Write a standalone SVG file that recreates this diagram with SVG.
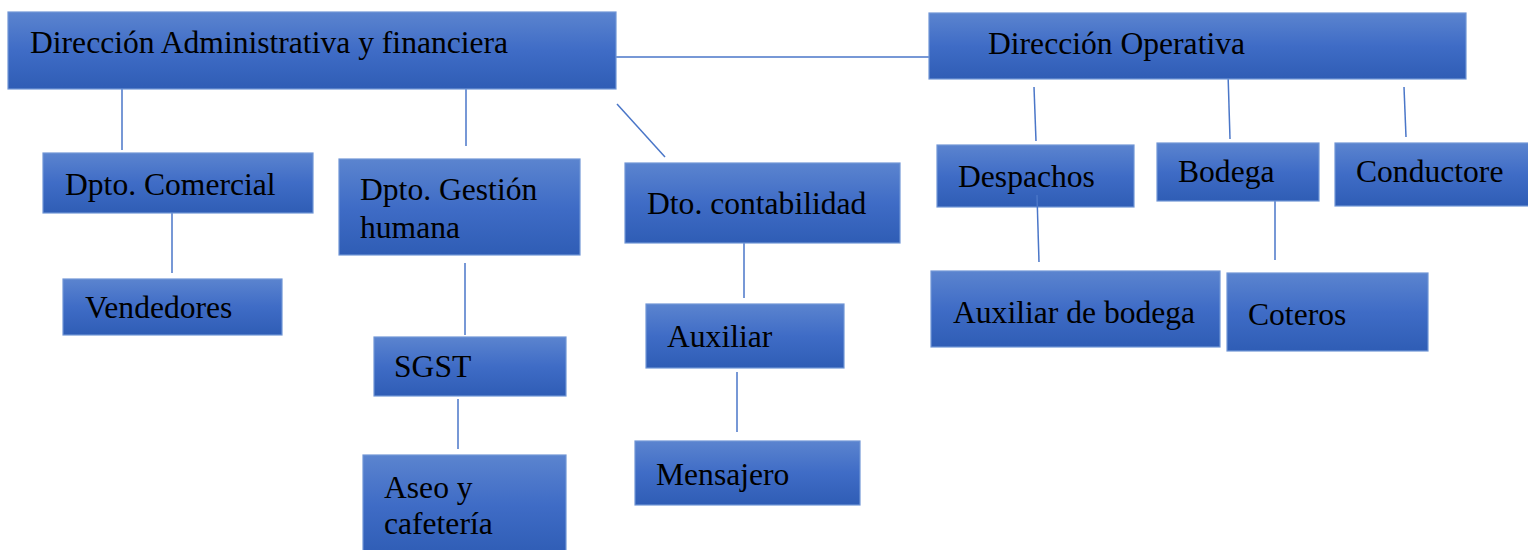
<svg xmlns="http://www.w3.org/2000/svg" width="1528" height="550" viewBox="0 0 1528 550">
<defs>
<linearGradient id="g" x1="0" y1="0" x2="0" y2="1">
<stop offset="0" stop-color="#5b84cf"/>
<stop offset="0.5" stop-color="#3f6cc6"/>
<stop offset="1" stop-color="#2f5db5"/>
</linearGradient>
<style>
.b{fill:url(#g);stroke:#7196d6;stroke-width:1.2}
.t{font-family:"Liberation Serif",serif;font-size:31.6px;fill:#000}
.c line{stroke:#4a76c8;stroke-width:1.5}
</style>
</defs>
<rect width="1528" height="550" fill="#fff"/>
<g class="c">
<line x1="616" y1="57" x2="929" y2="57"/>
<line x1="122" y1="89" x2="122" y2="150"/>
<line x1="466" y1="89" x2="466" y2="146"/>
<line x1="617" y1="104" x2="665" y2="157"/>
<line x1="172" y1="210" x2="172" y2="273"/>
<line x1="465" y1="263" x2="465" y2="335"/>
<line x1="458" y1="399" x2="458" y2="449"/>
<line x1="744" y1="243" x2="744" y2="298"/>
<line x1="737" y1="372" x2="737" y2="432"/>
<line x1="1034" y1="87" x2="1036" y2="141"/>
<line x1="1228" y1="73" x2="1230" y2="139"/>
<line x1="1404" y1="87" x2="1406" y2="137"/>
<line x1="1275" y1="201" x2="1275" y2="260"/>
</g>
<g id="dir-adm"><rect class="b" x="8" y="12" width="608" height="77"/><text class="t" x="30" y="53">Dirección Administrativa y financiera</text></g>
<g id="dir-op"><rect class="b" x="929" y="13" width="537" height="66"/><text class="t" x="988" y="54">Dirección Operativa</text></g>
<g id="comercial"><rect class="b" x="43" y="153" width="270" height="60"/><text class="t" x="65" y="195">Dpto. Comercial</text></g>
<g id="vendedores"><rect class="b" x="63" y="279" width="219" height="56"/><text class="t" x="85" y="318">Vendedores</text></g>
<g id="gestion"><rect class="b" x="339" y="159" width="241" height="96"/><text class="t" x="360" y="200">Dpto. Gestión</text><text class="t" x="360" y="238">humana</text></g>
<g id="sgst"><rect class="b" x="374" y="337" width="192" height="59"/><text class="t" x="394" y="377">SGST</text></g>
<g id="aseo"><rect class="b" x="363" y="455" width="203" height="100"/><text class="t" x="384" y="498">Aseo y</text><text class="t" x="384" y="534">cafetería</text></g>
<g id="contabilidad"><rect class="b" x="625" y="163" width="275" height="80"/><text class="t" x="647" y="214">Dto. contabilidad</text></g>
<g id="auxiliar"><rect class="b" x="646" y="304" width="198" height="64"/><text class="t" x="667" y="347">Auxiliar</text></g>
<g id="mensajero"><rect class="b" x="635" y="441" width="225" height="64"/><text class="t" x="656" y="485">Mensajero</text></g>
<g id="despachos"><rect class="b" x="937" y="145" width="197" height="62"/><text class="t" x="958" y="187">Despachos</text></g>
<g id="bodega"><rect class="b" x="1157" y="143" width="162" height="58"/><text class="t" x="1178" y="182">Bodega</text></g>
<g id="conductore"><rect class="b" x="1335" y="143" width="200" height="63"/><text class="t" x="1356" y="182">Conductore</text></g>
<g id="aux-bodega"><rect class="b" x="931" y="271" width="289" height="76"/><text class="t" x="953" y="323">Auxiliar de bodega</text></g>
<g id="coteros"><rect class="b" x="1227" y="273" width="201" height="78"/><text class="t" x="1248" y="325">Coteros</text></g>
<g class="c"><line x1="1037" y1="195" x2="1039" y2="262"/></g>
</svg>
